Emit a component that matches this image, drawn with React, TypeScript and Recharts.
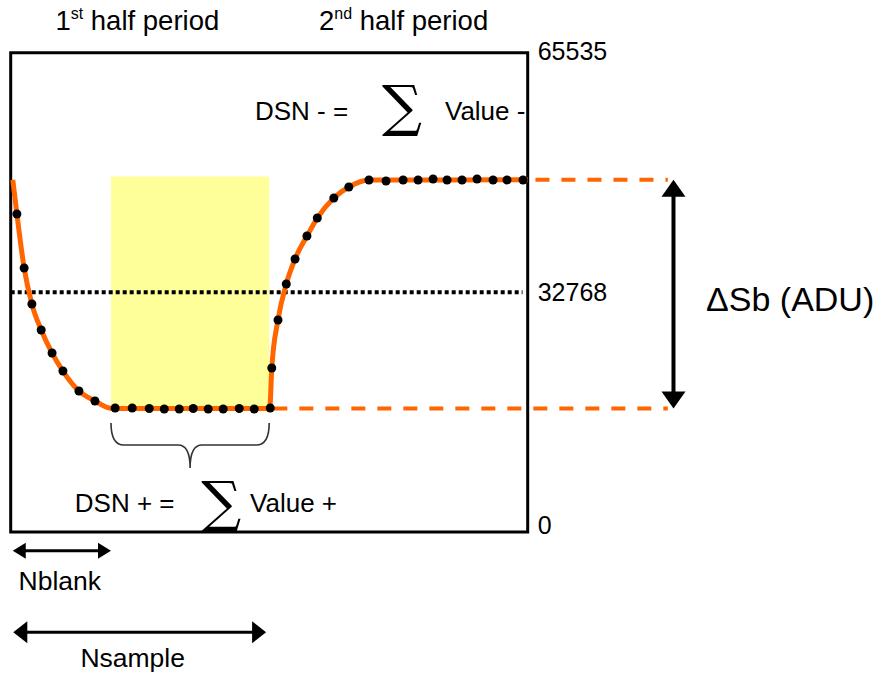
import React from "react";
import {
  ComposedChart, XAxis, YAxis, Line, Scatter,
  ReferenceArea, ReferenceLine, ReferenceDot,
} from "recharts";

// x: time in % of the modulation period, y: signal in ADU
const sampleTimes = [
  1.2, 2.6, 4.1, 5.9, 8.0, 10.1, 13.2, 16.3,
  20.2, 23.5, 26.8, 29.7, 32.6, 35.3, 38.2, 41.1, 44.2, 47.1, 50.2,
  50.5, 51.7, 53.3, 55.0, 57.3, 59.3, 62.5, 65.4,
  69.3, 72.6, 75.9, 78.8, 81.7, 84.4, 87.3, 90.2, 93.3, 96.0, 99.1,
];
const sampleValues = [
  43480, 36100, 31170, 27620, 24480, 22010, 19280, 17910,
  16950, 16950, 16880, 16820, 16820, 16880, 16820, 16820, 16880, 16820, 16950,
  22420, 28990, 33910, 37330, 40470, 42930, 45670, 47170,
  48130, 47990, 48130, 48130, 48270, 48130, 48130, 48270, 48130, 48130, 48130,
];

const curveTimes = [0.4, 1.2, 2.6, 4.1, 5.9, 8.0, 10.1, 13.2, 16.3, 19.5, 50.1, 50.5, 51.7, 53.3, 55.0, 57.3, 59.3, 62.5, 65.4, 69.3, 100];
const curveValues = [48150, 43480, 36100, 31170, 27620, 24480, 22010, 19280, 17910, 16900, 16900, 22420, 28990, 33910, 37330, 40470, 42930, 45670, 47170, 48130, 48150];

const yTicks = [0, 32768, 65535];
const midLevel = 32768;
const lowLevel = 16900;
const highLevel = 48150;
const windowTop = 48600;
const nBlank = 19.4;
const nSample = 49.4;
const halfPeriod = 50;

const ORANGE = "#ff6600";
const SANS = "'Liberation Sans', Arial, sans-serif";
const SIGMA_FONT = "'DejaVu Serif', 'Liberation Serif', serif";

const samples = sampleTimes.map((t, i) => ({ t, v: sampleValues[i] }));
const curve = curveTimes.map((t, i) => ({ t, v: curveValues[i] }));

function doubleArrow(len: number, half: number, width: number) {
  return (p: any) => {
    const { x1, y1, x2, y2 } = p;
    const d = Math.hypot(x2 - x1, y2 - y1) || 1;
    const ux = (x2 - x1) / d, uy = (y2 - y1) / d;
    const nx = -uy, ny = ux;
    const head = (tx: number, ty: number, s: number) => {
      const bx = tx + s * ux * len, by = ty + s * uy * len;
      return `${tx},${ty} ${bx + nx * half},${by + ny * half} ${bx - nx * half},${by - ny * half}`;
    };
    return (
      <g>
        <line x1={x1 + ux * len * 0.8} y1={y1 + uy * len * 0.8} x2={x2 - ux * len * 0.8} y2={y2 - uy * len * 0.8} stroke="#000" strokeWidth={width} />
        <polygon points={head(x1, y1, 1)} fill="#000" />
        <polygon points={head(x2, y2, -1)} fill="#000" />
      </g>
    );
  };
}

function Brace(p: any) {
  const { x, y, width: w, height: h } = p;
  const m = y + h * 0.49;
  const cx = x + w / 2;
  const d = `M${x},${y} Q${x},${m} ${x + 13},${m} L${cx - 12},${m} Q${cx},${m} ${cx},${y + h} Q${cx},${m} ${cx + 12},${m} L${x + w - 13},${m} Q${x + w},${m} ${x + w},${y}`;
  return <path d={d} fill="none" stroke="#333" strokeWidth={1.6} />;
}

function note(key: string, x: number, y: number, body: React.ReactNode, opts: any = {}) {
  return (
    <ReferenceDot
      key={key}
      x={x}
      y={y}
      r={0}
      ifOverflow="visible"
      shape={(p: any) => (
        <text
          x={p.cx}
          y={p.cy}
          fontFamily={opts.family || SANS}
          fontSize={opts.size || 26}
          textAnchor={opts.anchor || "start"}
          fill="#000"
        >
          {body}
        </text>
      )}
    />
  );
}

function YTick(p: any) {
  const { x, y, payload } = p;
  const dy = payload.value === 0 ? -7 : payload.value === 65535 ? -2 : 0;
  return (
    <text x={x} y={y + dy} dy="0.36em" fontFamily={SANS} fontSize={25} textAnchor="start" fill="#000">
      {payload.value}
    </text>
  );
}

export default function App() {
  return (
    <div style={{ position: "absolute", left: 0, top: 0, background: "#fff" }}>
      <ComposedChart
        width={878}
        height={675}
        margin={{ top: 52.7, left: 10.7, right: 290.3, bottom: 143 }}
      >
        <XAxis dataKey="t" type="number" domain={[0, 100]} hide />
        <YAxis
          dataKey="v"
          type="number"
          orientation="right"
          domain={[0, 65535]}
          ticks={yTicks}
          width={60}
          axisLine={false}
          tickLine={false}
          tickSize={0}
          tickMargin={10}
          tick={<YTick />}
        />

        <ReferenceArea x1={nBlank} x2={halfPeriod} y1={lowLevel} y2={windowTop} fill="#ffff99" fillOpacity={1} stroke="none" ifOverflow="visible" />
        <ReferenceLine segment={[{ x: 0, y: midLevel }, { x: 99, y: midLevel }]} stroke="#000" strokeWidth={4} strokeDasharray="4 3" ifOverflow="visible" />
        <ReferenceLine segment={[{ x: 50.8, y: lowLevel }, { x: 127.1, y: lowLevel }]} stroke={ORANGE} strokeWidth={4} strokeDasharray="14 12" ifOverflow="visible" />
        <ReferenceLine segment={[{ x: 101.5, y: highLevel }, { x: 127.1, y: highLevel }]} stroke={ORANGE} strokeWidth={4} strokeDasharray="14 12" ifOverflow="visible" />

        <Line data={curve} dataKey="v" type="monotone" stroke={ORANGE} strokeWidth={5} dot={false} activeDot={false} isAnimationActive={false} />
        <Scatter
          data={samples}
          dataKey="v"
          isAnimationActive={false}
          shape={(p: any) => <circle cx={p.cx} cy={p.cy} r={4.5} fill="#000" />}
        />

        <ReferenceArea x1={0} x2={100} y1={0} y2={65535} fill="none" stroke="#000" strokeWidth={3} ifOverflow="visible" />

        <ReferenceArea x1={nBlank} x2={halfPeriod} y1={8750} y2={14900} ifOverflow="visible" shape={<Brace />} />

        <ReferenceLine segment={[{ x: 128.2, y: highLevel }, { x: 128.2, y: lowLevel }]} ifOverflow="visible" shape={doubleArrow(17, 12, 4)} />
        <ReferenceLine segment={[{ x: 0.4, y: -2560 }, { x: nBlank, y: -2560 }]} ifOverflow="visible" shape={doubleArrow(13, 8, 3)} />
        <ReferenceLine segment={[{ x: 0.5, y: -13710 }, { x: nSample, y: -13710 }]} ifOverflow="visible" shape={doubleArrow(14, 11, 3)} />

        {note("h1", 24.5, 68640, <>1<tspan dy={-11} fontSize={16}>st</tspan><tspan dy={11}> half period</tspan></>, { anchor: "middle", size: 27.5 })}
        {note("h2", 76, 68640, <>2<tspan dy={-11} fontSize={16}>nd</tspan><tspan dy={11}> half period</tspan></>, { anchor: "middle", size: 27.5 })}

        {note("dm1", 47.25, 56330, "DSN - =")}
        {note("dm2", 75.7, 55600, "\u2211", { anchor: "middle", family: SIGMA_FONT, size: 56 })}
        {note("dm3", 84.0, 56330, "Value -")}

        {note("dp1", 12.4, 2735, "DSN + =")}
        {note("dp2", 40.7, 1500, "\u2211", { anchor: "middle", family: SIGMA_FONT, size: 56 })}
        {note("dp3", 46.3, 2735, "Value +")}

        {note("dsb", 134.5, 30200, "\u0394Sb (ADU)", { size: 34 })}
        {note("nb", 9.5, -7930, "Nblank", { anchor: "middle", size: 26.5 })}
        {note("ns", 23.6, -18420, "Nsample", { anchor: "middle", size: 26.5 })}
      </ComposedChart>
    </div>
  );
}
